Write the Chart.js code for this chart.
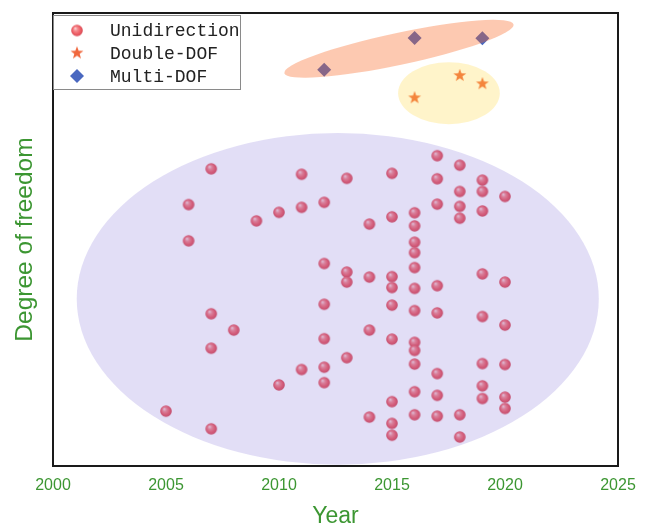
<!DOCTYPE html>
<html>
<head>
<meta charset="utf-8">
<script src="https://cdn.jsdelivr.net/npm/chart.js@4.4.0/dist/chart.umd.min.js"></script>
<style>
html, body { margin: 0; padding: 0; background: #fff; }
#wrap { width: 646px; height: 528px; }
</style>
</head>
<body>
<div id="wrap"><canvas id="chart" width="646" height="528"></canvas></div>
<script>
// data (y has no ticks, so it is on a 0-100 scale)
const xTicks = [2000, 2005, 2010, 2015, 2020, 2025];

const uniYears = [
  2005,
  2006, 2006,
  2007, 2007, 2007, 2007,
  2008,
  2009,
  2010, 2010,
  2011, 2011, 2011,
  2012, 2012, 2012, 2012, 2012, 2012,
  2013, 2013, 2013, 2013,
  2014, 2014, 2014, 2014,
  2015, 2015, 2015, 2015, 2015, 2015, 2015, 2015, 2015,
  2016, 2016, 2016, 2016, 2016, 2016, 2016, 2016, 2016, 2016, 2016, 2016,
  2017, 2017, 2017, 2017, 2017, 2017, 2017, 2017,
  2018, 2018, 2018, 2018, 2018, 2018,
  2019, 2019, 2019, 2019, 2019, 2019, 2019, 2019,
  2020, 2020, 2020, 2020, 2020, 2020
];
const uniDof = [
  12.1,
  57.7, 49.7,
  65.6, 33.6, 26.0, 8.2,
  30.0,
  54.1,
  56.0, 17.9,
  64.4, 57.1, 21.3,
  58.2, 44.7, 35.7, 28.1, 21.8, 18.4,
  63.5, 42.8, 40.6, 23.9,
  53.4, 41.7, 30.0, 10.8,
  64.6, 55.0, 41.8, 39.4, 35.5, 28.0, 14.2, 9.4, 6.8,
  55.9, 53.0, 49.4, 47.1, 43.8, 39.2, 34.3, 27.3, 25.5, 22.5, 16.4, 11.3,
  68.5, 63.4, 57.8, 39.8, 33.8, 20.4, 15.6, 11.0,
  66.4, 60.6, 57.3, 54.7, 11.3, 6.4,
  63.1, 60.6, 56.3, 42.4, 33.0, 22.6, 17.7, 14.9,
  59.5, 40.6, 31.1, 22.4, 15.2, 12.7
];

const doubleYears = [2016, 2018, 2019];
const doubleDof = [81.4, 86.3, 84.5];

const multiYears = [2012, 2016, 2019];
const multiDof = [87.5, 94.5, 94.4];

// shaded groups, in axis units (rot in degrees on screen)
const groups = [
  { cx: 2012.6, cy: 36.9, rx: 11.55, ry: 36.6, rot: 0, color: 'rgba(112,90,210,0.2)' },
  { cx: 2017.52, cy: 82.3, rx: 2.25, ry: 6.84, rot: 0, color: 'rgba(255,214,60,0.27)' },
  { cx: 2015.31, cy: 92.1, rx: 5.18, ry: 3.53, rot: -12, color: 'rgba(249,99,31,0.35)' }
];

const green = '#3c9632';
const blue = '#4a68c0';

function pts(xs, ys) {
  return xs.map((x, i) => ({ x: x, y: ys[i] }));
}

// little shaded ball
function makeSphere() {
  const c = document.createElement('canvas');
  c.width = 14; c.height = 14;
  const g = c.getContext('2d');
  const grad = g.createRadialGradient(5.2, 4.8, 0.3, 7, 7, 6.2);
  grad.addColorStop(0, '#fbd0d2');
  grad.addColorStop(0.3, '#f48a8e');
  grad.addColorStop(0.65, '#ee5f66');
  grad.addColorStop(1, '#d44a55');
  g.fillStyle = grad;
  g.beginPath();
  g.arc(7, 7, 5.8, 0, Math.PI * 2);
  g.fill();
  return c;
}

function makeStar(color) {
  const c = document.createElement('canvas');
  c.width = 16; c.height = 16;
  const g = c.getContext('2d');
  g.fillStyle = color;
  g.beginPath();
  for (let i = 0; i < 10; i++) {
    const r = i % 2 === 0 ? 6.8 : 2.8;
    const a = -Math.PI / 2 + i * Math.PI / 5;
    const px = 8 + r * Math.cos(a), py = 8.5 + r * Math.sin(a);
    if (i === 0) g.moveTo(px, py); else g.lineTo(px, py);
  }
  g.closePath();
  g.fill();
  return c;
}

const sphere = makeSphere();
const star = makeStar('#f0683e');

const overlay = {
  id: 'overlay',
  afterDatasetsDraw(chart) {
    const ctx = chart.ctx;
    const xs = chart.scales.x, ys = chart.scales.y;
    const a = chart.chartArea;
    ctx.save();
    ctx.beginPath();
    ctx.rect(a.left, a.top, a.right - a.left, a.bottom - a.top);
    ctx.clip();
    groups.forEach(e => {
      const cx = xs.getPixelForValue(e.cx), cy = ys.getPixelForValue(e.cy);
      const rx = xs.getPixelForValue(e.cx + e.rx) - cx;
      const ry = cy - ys.getPixelForValue(e.cy + e.ry);
      ctx.fillStyle = e.color;
      ctx.beginPath();
      ctx.ellipse(cx, cy, rx, ry, e.rot * Math.PI / 180, 0, Math.PI * 2);
      ctx.fill();
    });
    ctx.restore();
  },
  afterDraw(chart) {
    const ctx = chart.ctx;
    const a = chart.chartArea;
    ctx.save();
    // frame
    ctx.strokeStyle = '#1a1a1a';
    ctx.lineWidth = 2;
    ctx.strokeRect(a.left, a.top, a.right - a.left, a.bottom - a.top);
    // legend
    const lx = a.left + 0.5, ly = a.top + 2.5;
    ctx.fillStyle = '#fff';
    ctx.fillRect(lx, ly, 187, 74);
    ctx.strokeStyle = '#8a8a8a';
    ctx.lineWidth = 1;
    ctx.strokeRect(lx, ly, 187, 74);
    ctx.font = '18px "Liberation Mono", monospace';
    ctx.textBaseline = 'middle';
    const rows = [ly + 15, ly + 37.5, ly + 60.5];
    const mx = a.left + 24;
    chart.data.datasets.forEach((ds, i) => {
      const y = rows[i];
      if (i === 0) ctx.drawImage(sphere, mx - 7, y - 7);
      else if (i === 1) ctx.drawImage(star, mx - 8, y - 8.5);
      else {
        ctx.fillStyle = blue;
        ctx.beginPath();
        ctx.moveTo(mx - 7, y); ctx.lineTo(mx, y - 7);
        ctx.lineTo(mx + 7, y); ctx.lineTo(mx, y + 7);
        ctx.closePath();
        ctx.fill();
      }
      ctx.fillStyle = '#222';
      ctx.fillText(ds.label, a.left + 57, y + 1);
    });
    ctx.restore();
  }
};

const chart = new Chart(document.querySelector('#chart').getContext('2d'), {
  type: 'scatter',
  data: {
    datasets: [
      {
        label: 'Unidirection',
        data: pts(uniYears, uniDof),
        pointStyle: sphere,
        pointRadius: 6
      },
      {
        label: 'Double-DOF',
        data: pts(doubleYears, doubleDof),
        pointStyle: star,
        pointRadius: 7
      },
      {
        label: 'Multi-DOF',
        data: pts(multiYears, multiDof),
        pointStyle: 'rectRot',
        pointRadius: 7,
        backgroundColor: blue,
        borderColor: blue,
        borderWidth: 0
      }
    ]
  },
  options: {
    responsive: false,
    animation: false,
    layout: { padding: { top: 13, right: 28, left: 0, bottom: 0 } },
    plugins: {
      legend: { display: false },
      tooltip: { enabled: false }
    },
    scales: {
      x: {
        type: 'linear',
        min: 2000,
        max: 2025,
        afterBuildTicks: s => { s.ticks = xTicks.map(v => ({ value: v })); },
        ticks: {
          color: green,
          font: { family: '"Liberation Sans", Arial', size: 16 },
          padding: 10,
          maxRotation: 0,
          callback: v => String(v)
        },
        grid: { display: false, drawTicks: false },
        border: { display: false },
        title: {
          display: true,
          text: 'Year',
          color: green,
          font: { family: '"Liberation Sans", Arial', size: 23, lineHeight: 1 },
          padding: { top: 0, bottom: 0 }
        },
        afterFit: s => { s.height = 62; }
      },
      y: {
        min: 0,
        max: 100,
        ticks: { display: false },
        grid: { display: false, drawTicks: false },
        border: { display: false },
        title: {
          display: true,
          text: 'Degree of freedom',
          color: green,
          font: { family: '"Liberation Sans", Arial', size: 24.5, lineHeight: 1 },
          padding: { top: 13, bottom: 0 }
        },
        afterFit: s => { s.width = 53; }
      }
    }
  },
  plugins: [overlay]
});
</script>
</body>
</html>
